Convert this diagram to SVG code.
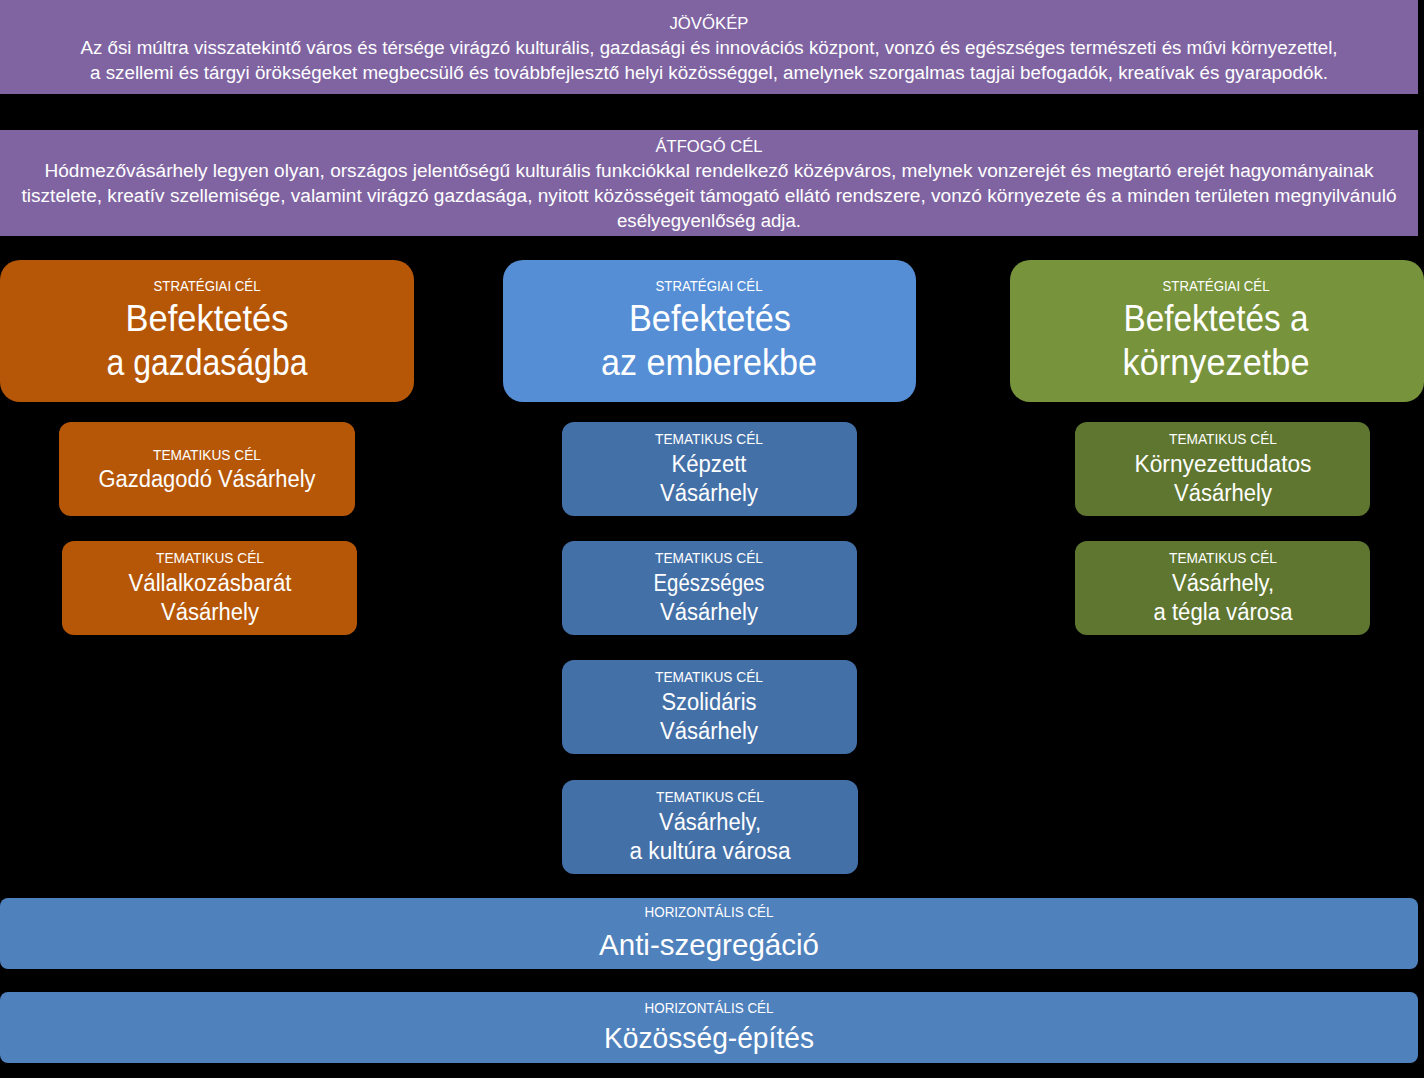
<svg xmlns="http://www.w3.org/2000/svg" width="1424" height="1078" viewBox="0 0 1424 1078">
<style>
text{font-family:"Liberation Sans",Arial,sans-serif;fill:#fff;text-anchor:middle}
.purple{fill:#8064A2}
.org{fill:#B65708}
.sblue{fill:#558ED5}
.sgreen{fill:#77933C}
.tblue{fill:#4470A8}
.tgreen{fill:#5E7630}
.hblue{fill:#4F81BD}
.body{font-size:18px}
.lab{font-size:15px}
.big{font-size:36px}
.mid{font-size:23px}
.hbig{font-size:30px}
</style>
<rect x="0" y="0" width="1424" height="1078" fill="#000"/>
<g id="connectors"></g>
<g id="jovokep">
<rect class="purple" x="0" y="0" width="1418" height="94"/>
<text x="709" y="29" textLength="79" lengthAdjust="spacingAndGlyphs" style="font-size:17px">JÖVŐKÉP</text>
<text class="body" x="709" y="54" textLength="1257" lengthAdjust="spacingAndGlyphs">Az ősi múltra visszatekintő város és térsége virágzó kulturális, gazdasági és innovációs központ, vonzó és egészséges természeti és művi környezettel,</text>
<text class="body" x="709" y="79" textLength="1238" lengthAdjust="spacingAndGlyphs">a szellemi és tárgyi örökségeket megbecsülő és továbbfejlesztő helyi közösséggel, amelynek szorgalmas tagjai befogadók, kreatívak és gyarapodók.</text>
</g>
<g id="atfogo">
<rect class="purple" x="0" y="130" width="1418" height="106"/>
<text x="709" y="152" textLength="107" lengthAdjust="spacingAndGlyphs" style="font-size:17px">ÁTFOGÓ CÉL</text>
<text class="body" x="709" y="177" textLength="1329" lengthAdjust="spacingAndGlyphs">Hódmezővásárhely legyen olyan, országos jelentőségű kulturális funkciókkal rendelkező középváros, melynek vonzerejét és megtartó erejét hagyományainak</text>
<text class="body" x="709" y="202" textLength="1375" lengthAdjust="spacingAndGlyphs">tisztelete, kreatív szellemisége, valamint virágzó gazdasága, nyitott közösségeit támogató ellátó rendszere, vonzó környezete és a minden területen megnyilvánuló</text>
<text class="body" x="709" y="227" textLength="184" lengthAdjust="spacingAndGlyphs">esélyegyenlőség adja.</text>
</g>
<g id="strat-gazdasag">
<rect class="org" x="0" y="260" width="414" height="142" rx="20"/>
<text class="lab" x="207" y="291" textLength="107" lengthAdjust="spacingAndGlyphs">STRATÉGIAI CÉL</text>
<text class="big" x="207" y="331" textLength="163" lengthAdjust="spacingAndGlyphs">Befektetés</text>
<text class="big" x="207" y="375" textLength="201" lengthAdjust="spacingAndGlyphs">a gazdaságba</text>
</g>
<g id="strat-emberek">
<rect class="sblue" x="503" y="260" width="413" height="142" rx="20"/>
<text class="lab" x="709" y="291" textLength="107" lengthAdjust="spacingAndGlyphs">STRATÉGIAI CÉL</text>
<text class="big" x="710" y="331" textLength="162" lengthAdjust="spacingAndGlyphs">Befektetés</text>
<text class="big" x="709" y="375" textLength="216" lengthAdjust="spacingAndGlyphs">az emberekbe</text>
</g>
<g id="strat-kornyezet">
<rect class="sgreen" x="1010" y="260" width="414" height="142" rx="20"/>
<text class="lab" x="1216" y="291" textLength="107" lengthAdjust="spacingAndGlyphs">STRATÉGIAI CÉL</text>
<text class="big" x="1216" y="331" textLength="185" lengthAdjust="spacingAndGlyphs">Befektetés a</text>
<text class="big" x="1216" y="375" textLength="187" lengthAdjust="spacingAndGlyphs">környezetbe</text>
</g>
<g id="tem-gazdagodo">
<rect class="org" x="59" y="422" width="296" height="94" rx="12"/>
<text class="lab" x="207" y="460" textLength="108" lengthAdjust="spacingAndGlyphs">TEMATIKUS CÉL</text>
<text class="mid" x="207" y="487" textLength="217" lengthAdjust="spacingAndGlyphs">Gazdagodó Vásárhely</text>
</g>
<g id="tem-vallalkozas">
<rect class="org" x="62" y="541" width="295" height="94" rx="12"/>
<text class="lab" x="210" y="563" textLength="108" lengthAdjust="spacingAndGlyphs">TEMATIKUS CÉL</text>
<text class="mid" x="210" y="591" textLength="163" lengthAdjust="spacingAndGlyphs">Vállalkozásbarát</text>
<text class="mid" x="210" y="620" textLength="98" lengthAdjust="spacingAndGlyphs">Vásárhely</text>
</g>
<g id="tem-kepzett">
<rect class="tblue" x="562" y="422" width="295" height="94" rx="12"/>
<text class="lab" x="709" y="444" textLength="108" lengthAdjust="spacingAndGlyphs">TEMATIKUS CÉL</text>
<text class="mid" x="709" y="472" textLength="75" lengthAdjust="spacingAndGlyphs">Képzett</text>
<text class="mid" x="709" y="501" textLength="98" lengthAdjust="spacingAndGlyphs">Vásárhely</text>
</g>
<g id="tem-egeszseges">
<rect class="tblue" x="562" y="541" width="295" height="94" rx="12"/>
<text class="lab" x="709" y="563" textLength="108" lengthAdjust="spacingAndGlyphs">TEMATIKUS CÉL</text>
<text class="mid" x="709" y="591" textLength="111" lengthAdjust="spacingAndGlyphs">Egészséges</text>
<text class="mid" x="709" y="620" textLength="98" lengthAdjust="spacingAndGlyphs">Vásárhely</text>
</g>
<g id="tem-szolidaris">
<rect class="tblue" x="562" y="660" width="295" height="94" rx="12"/>
<text class="lab" x="709" y="682" textLength="108" lengthAdjust="spacingAndGlyphs">TEMATIKUS CÉL</text>
<text class="mid" x="709" y="710" textLength="95" lengthAdjust="spacingAndGlyphs">Szolidáris</text>
<text class="mid" x="709" y="739" textLength="98" lengthAdjust="spacingAndGlyphs">Vásárhely</text>
</g>
<g id="tem-kultura">
<rect class="tblue" x="562" y="780" width="296" height="94" rx="12"/>
<text class="lab" x="710" y="802" textLength="108" lengthAdjust="spacingAndGlyphs">TEMATIKUS CÉL</text>
<text class="mid" x="710" y="830" textLength="102" lengthAdjust="spacingAndGlyphs">Vásárhely,</text>
<text class="mid" x="710" y="859" textLength="161" lengthAdjust="spacingAndGlyphs">a kultúra városa</text>
</g>
<g id="tem-kornyezettudatos">
<rect class="tgreen" x="1075" y="422" width="295" height="94" rx="12"/>
<text class="lab" x="1223" y="444" textLength="108" lengthAdjust="spacingAndGlyphs">TEMATIKUS CÉL</text>
<text class="mid" x="1223" y="472" textLength="177" lengthAdjust="spacingAndGlyphs">Környezettudatos</text>
<text class="mid" x="1223" y="501" textLength="98" lengthAdjust="spacingAndGlyphs">Vásárhely</text>
</g>
<g id="tem-tegla">
<rect class="tgreen" x="1075" y="541" width="295" height="94" rx="12"/>
<text class="lab" x="1223" y="563" textLength="108" lengthAdjust="spacingAndGlyphs">TEMATIKUS CÉL</text>
<text class="mid" x="1223" y="591" textLength="102" lengthAdjust="spacingAndGlyphs">Vásárhely,</text>
<text class="mid" x="1223" y="620" textLength="139" lengthAdjust="spacingAndGlyphs">a tégla városa</text>
</g>
<g id="hor-antiszegregacio">
<rect class="hblue" x="0" y="898" width="1418" height="71" rx="8"/>
<text class="lab" x="709" y="917" textLength="129" lengthAdjust="spacingAndGlyphs">HORIZONTÁLIS CÉL</text>
<text class="hbig" x="709" y="955" textLength="220" lengthAdjust="spacingAndGlyphs">Anti-szegregáció</text>
</g>
<g id="hor-kozosseg">
<rect class="hblue" x="0" y="992" width="1418" height="71" rx="8"/>
<text class="lab" x="709" y="1013" textLength="129" lengthAdjust="spacingAndGlyphs">HORIZONTÁLIS CÉL</text>
<text class="hbig" x="709" y="1048" textLength="210" lengthAdjust="spacingAndGlyphs">Közösség-építés</text>
</g>
</svg>
